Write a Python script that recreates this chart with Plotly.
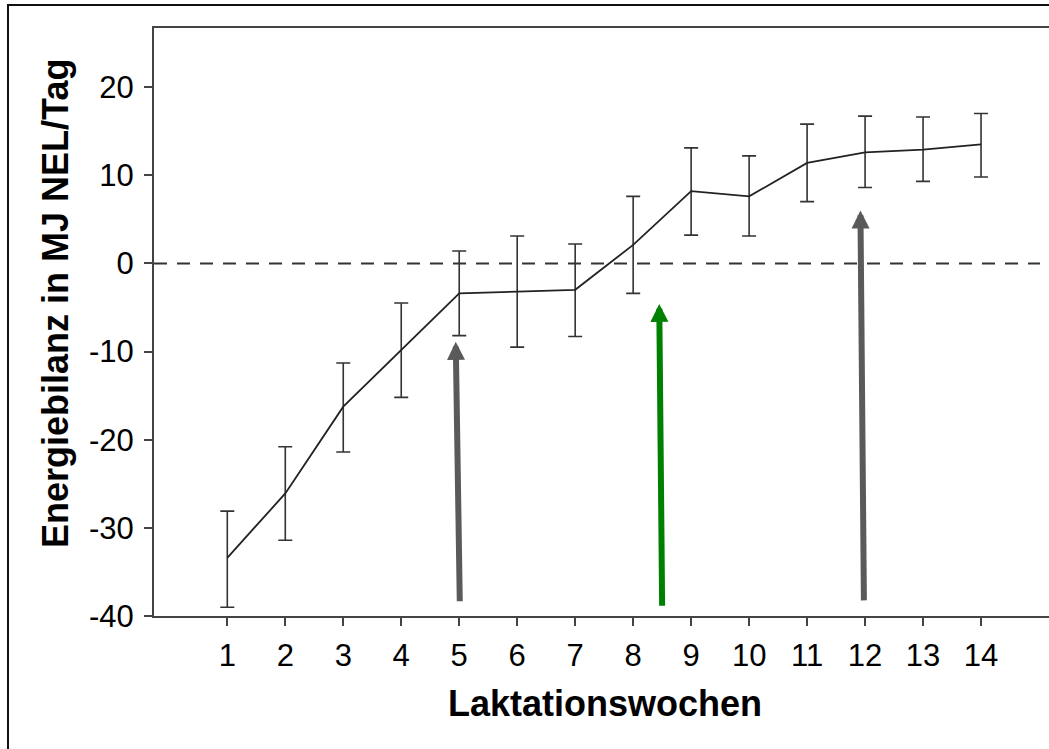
import plotly.graph_objects as go

# ---- data ----
weeks = [1, 2, 3, 4, 5, 6, 7, 8, 9, 10, 11, 12, 13, 14]
mean_eb = [-33.4, -26.1, -16.25, -9.8, -3.4, -3.2, -3.0, 2.1, 8.2, 7.6, 11.4, 12.6, 12.9, 13.5]
upper_eb = [-28.1, -20.8, -11.3, -4.5, 1.4, 3.1, 2.2, 7.6, 13.1, 12.2, 15.8, 16.7, 16.6, 17.0]
lower_eb = [-39.0, -31.4, -21.4, -15.2, -8.2, -9.5, -8.3, -3.4, 3.2, 3.1, 7.0, 8.6, 9.3, 9.8]
y_ticks = [-40, -30, -20, -10, 0, 10, 20]
y_ticktext = ["-40", "-30", "-20", "-10", "0", "10", "20"]
x_title = "Laktationswochen"
y_title = "Energiebilanz in MJ NEL/Tag"

# arrows: tails and tips in data units
arrow_tail_x = [5.01, 8.50, 11.98]
arrow_tail_y = [-38.5, -39.0, -38.4]
arrow_tip_x = [4.94, 8.45, 11.92]
arrow_tip_y = [-8.9, -4.6, 6.0]
arrow_colors = ["#5a5a5a", "#008000", "#5a5a5a"]

err_plus = [u - m for u, m in zip(upper_eb, mean_eb)]
err_minus = [m - l for m, l in zip(mean_eb, lower_eb)]

W, H = 1049, 749
L, R, T, B = 154, 0, 28, 133
pw = W - L - R
ph = H - T - B

fig = go.Figure()
fig.add_trace(go.Scatter(
    x=weeks, y=mean_eb, mode="lines",
    line=dict(color="#222222", width=1.8),
    error_y=dict(type="data", symmetric=False, array=err_plus, arrayminus=err_minus,
                 color="#333333", thickness=1.6, width=7),
    showlegend=False, hoverinfo="skip",
))

# zero dashed reference line
fig.add_shape(type="line", xref="paper", yref="y", x0=0, x1=(1040 - L) / pw, y0=0, y1=0,
              line=dict(color="#333333", width=2, dash="13px,10px"), layer="below")

# outer frame
fig.add_shape(type="rect", xref="paper", yref="paper",
              x0=(8 - L) / pw, x1=(1060 - L) / pw,
              y0=(H - 760 - B) / ph, y1=(H - 5 - B) / ph,
              line=dict(color="#111111", width=2))

annotations = []
for tx, ty, hx, hy, c in zip(arrow_tail_x, arrow_tail_y, arrow_tip_x, arrow_tip_y, arrow_colors):
    annotations.append(dict(x=hx, y=hy, ax=tx, ay=ty, xref="x", yref="y", axref="x", ayref="y",
                            text="", showarrow=True, arrowhead=2, arrowsize=0.6, arrowwidth=6,
                            arrowcolor=c, standoff=0))

annotations.append(dict(text=x_title, x=(605 - L) / pw, y=(H - B - 703) / ph, xref="paper", yref="paper",
                        showarrow=False, xanchor="center", yanchor="middle",
                        font=dict(family="Liberation Sans, Arial", size=36, color="#000000", weight="bold")))
annotations.append(dict(text=y_title, x=(55 - L) / pw, y=(H - B - 304) / ph, xref="paper", yref="paper",
                        showarrow=False, xanchor="center", yanchor="middle", textangle=-90,
                        font=dict(family="Liberation Sans, Arial", size=36, color="#000000", weight="bold")))

x0 = 1 - (227.3 - L) / 57.98
x1 = 1 + (W - 227.3) / 57.98

fig.update_layout(
    width=W, height=H,
    margin=dict(l=L, r=R, t=T, b=B, pad=0),
    paper_bgcolor="white", plot_bgcolor="white",
    font=dict(family="Liberation Sans, Arial", size=31, color="#000000"),
    annotations=annotations,
    xaxis=dict(range=[x0, x1], tickmode="array", tickvals=weeks, ticktext=[str(w) for w in weeks],
               showgrid=False, zeroline=False, showline=True, linecolor="#444444", linewidth=2,
               ticks="outside", ticklen=8, tickwidth=2, tickcolor="#444444",
               tickfont=dict(size=31), mirror=True, ticklabelstandoff=3),
    yaxis=dict(range=[-40, 26.7], tickmode="array", tickvals=y_ticks, ticktext=y_ticktext,
               showgrid=False, zeroline=False, showline=True, linecolor="#444444", linewidth=2,
               ticks="outside", ticklen=8, tickwidth=2, tickcolor="#444444",
               tickfont=dict(size=31), ticklabelstandoff=4),
)

fig.write_html("out.html")
